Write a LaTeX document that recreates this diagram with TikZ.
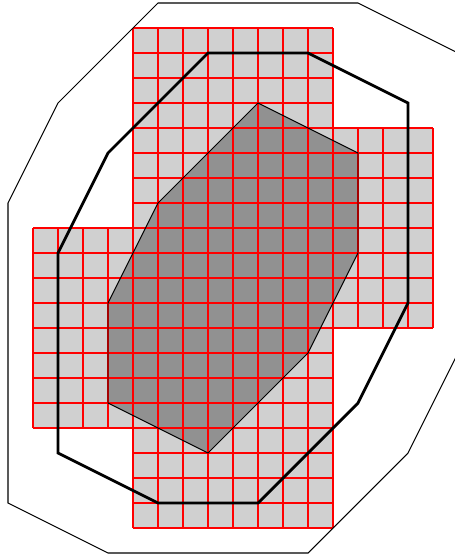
\documentclass[tikz,border=0pt]{standalone}
\usepackage{tikz}
\definecolor{cellgray}{RGB}{208,208,208}
\definecolor{coregray}{RGB}{145,145,145}

\begin{document}
\begin{tikzpicture}[x=0.5cm, y=0.5cm,
    cellfill/.style={fill=cellgray},
    gridline/.style={red, line width=0.6pt},
    core/.style={draw=black, line width=0.55pt},
    hull/.style={draw=black, line width=1.6pt},
    outer/.style={draw=black, line width=0.6pt}
]
    \useasboundingbox (-0.32,1.12) rectangle (17.88,-21.12);
    \clip (-0.32,1.12) rectangle (17.88,-21.12);

    % Cells
    \fill[cellfill] (5,0) rectangle (13,-20);
    \fill[cellfill] (13,-4) rectangle (17,-12);
    \fill[cellfill] (1,-8) rectangle (5,-16);

    % Core polygon
    \fill[coregray] (10,-3) -- (14,-5) -- (14,-9) -- (12,-13) -- (8,-17)
        -- (4,-15) -- (4,-11) -- (6,-7) -- cycle;

    % Grid
    \draw[gridline, step=0.5cm] (5,0) grid (13,-20);
    \draw[gridline, step=0.5cm] (13,-4) grid (17,-12);
    \draw[gridline, step=0.5cm] (1,-8) grid (5,-16);

    % Outlines
    \draw[core] (10,-3) -- (14,-5) -- (14,-9) -- (12,-13) -- (8,-17)
        -- (4,-15) -- (4,-11) -- (6,-7) -- cycle;
    \draw[hull] (8,-1) -- (12,-1) -- (16,-3) -- (16,-11) -- (14,-15) -- (10,-19)
        -- (6,-19) -- (2,-17) -- (2,-9) -- (4,-5) -- cycle;
    \draw[outer] (6,1) -- (14,1) -- (18,-1) -- (18,-13) -- (16,-17) -- (12,-21)
        -- (4,-21) -- (0,-19) -- (0,-7) -- (2,-3) -- cycle;
\end{tikzpicture}
\end{document}
